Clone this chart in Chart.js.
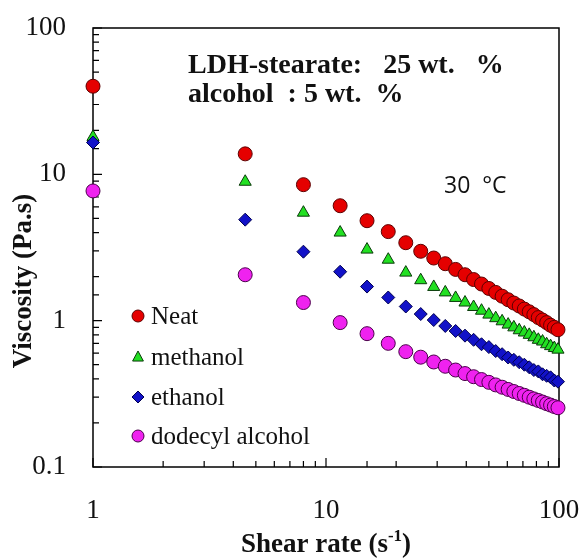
<!DOCTYPE html>
<html lang="en">
<head>
<meta charset="UTF-8">
<title>Viscosity vs shear rate</title>
<script src="https://cdn.jsdelivr.net/npm/chart.js@4.4.1/dist/chart.umd.min.js"></script>
<style>
  body { margin: 0; background: #fff; }
  #wrap { width: 582px; height: 559px; }
</style>
</head>
<body>
<div id="wrap"><canvas id="viscChart" width="582" height="559"></canvas></div>
<script>
// shear rate (1/s) and viscosity (Pa.s) for each formulation
const shearRate = [1, 4.5, 8, 11.5, 15, 18.5, 22, 25.5, 29, 32.5, 36, 39.5, 43, 46.5, 50,
                   53.5, 57, 60.5, 64, 67.5, 71, 74.5, 78, 81.5, 85, 88.5, 92, 95.5, 99];
const neat = [40, 13.8, 8.5, 6.1, 4.82, 4.06, 3.41, 2.98, 2.68, 2.45, 2.24, 2.06, 1.91, 1.78, 1.66,
              1.56, 1.47, 1.39, 1.32, 1.26, 1.20, 1.15, 1.10, 1.05, 1.01, 0.97, 0.93, 0.90, 0.867];
const methanol = [18, 8.9, 5.47, 4.0, 3.06, 2.61, 2.13, 1.89, 1.70, 1.56, 1.43, 1.33, 1.24, 1.17, 1.10,
                  1.04, 0.99, 0.94, 0.90, 0.86, 0.83, 0.80, 0.77, 0.74, 0.72, 0.69, 0.67, 0.65, 0.634];
const ethanol = [16.5, 4.9, 2.96, 2.16, 1.71, 1.44, 1.25, 1.11, 1.01, 0.92, 0.85, 0.79, 0.74, 0.69, 0.66,
                 0.62, 0.59, 0.56, 0.54, 0.52, 0.50, 0.48, 0.46, 0.45, 0.43, 0.42, 0.41, 0.39, 0.383];
const dodecyl = [7.7, 2.06, 1.33, 0.97, 0.815, 0.70, 0.614, 0.563, 0.522, 0.488, 0.460, 0.435, 0.414, 0.396, 0.379,
                 0.364, 0.351, 0.339, 0.328, 0.318, 0.309, 0.300, 0.292, 0.285, 0.278, 0.271, 0.265, 0.259, 0.254];

const seriesNames = ['Neat', 'methanol', 'ethanol', 'dodecyl alcohol'];
const seriesValues = [neat, methanol, ethanol, dodecyl];
const seriesStyle = [
    { shape: 'circle', fill: '#e50000', edge: '#5c0000' },
    { shape: 'triangle', fill: '#22e022', edge: '#0a3a0a' },
    { shape: 'rectRot', fill: '#1212c8', edge: '#000050' },
    { shape: 'circle', fill: '#ef22ef', edge: '#4a004a' }
];

const xMin = 1, xMax = 100;
const yMin = 0.1, yMax = 100;

const serif = '"Liberation Serif", "Times New Roman", serif';

function isDecade(v) {
    const l = Math.log10(v);
    return Math.abs(l - Math.round(l)) < 1e-9;
}

// frame plus inward ticks on the left and bottom axes
const framePlugin = {
    id: 'frame',
    beforeDatasetsDraw(chart) {
        const { ctx, chartArea: a } = chart;
        ctx.save();
        ctx.strokeStyle = '#000';
        ctx.lineWidth = 1.5;
        ctx.strokeRect(a.left, a.top, a.right - a.left, a.bottom - a.top);
        ctx.lineWidth = 1.2;
        ctx.beginPath();
        chart.scales.x.ticks.forEach(t => {
            const px = chart.scales.x.getPixelForValue(t.value);
            const len = isDecade(t.value) ? 9 : 6;
            ctx.moveTo(px, a.bottom);
            ctx.lineTo(px, a.bottom - len);
        });
        chart.scales.y.ticks.forEach(t => {
            const py = chart.scales.y.getPixelForValue(t.value);
            const len = isDecade(t.value) ? 9 : 6;
            ctx.moveTo(a.left, py);
            ctx.lineTo(a.left + len, py);
        });
        ctx.stroke();
        ctx.restore();
    }
};

function drawMarker(ctx, shape, x, y, r, fill, edge) {
    ctx.beginPath();
    if (shape === 'circle') {
        ctx.arc(x, y, r, 0, Math.PI * 2);
    } else if (shape === 'triangle') {
        const h = r * 1.5;
        ctx.moveTo(x, y - h * 0.67);
        ctx.lineTo(x + r * 0.9, y + h * 0.45);
        ctx.lineTo(x - r * 0.9, y + h * 0.45);
        ctx.closePath();
    } else {
        ctx.moveTo(x, y - r);
        ctx.lineTo(x + r, y);
        ctx.lineTo(x, y + r);
        ctx.lineTo(x - r, y);
        ctx.closePath();
    }
    ctx.fillStyle = fill;
    ctx.fill();
    ctx.lineWidth = 1;
    ctx.strokeStyle = edge;
    ctx.stroke();
}

// legend, notes and axis titles
const textPlugin = {
    id: 'texts',
    afterDraw(chart) {
        const ctx = chart.ctx;
        ctx.save();

        // legend inside the plot
        const rows = [316, 357, 397, 436];
        seriesNames.forEach((name, i) => {
            const s = seriesStyle[i];
            drawMarker(ctx, s.shape, 138, rows[i], 6, s.fill, s.edge);
            ctx.fillStyle = '#111';
            ctx.font = 'normal 400 25px "Liberation Serif"';
            ctx.textBaseline = 'middle';
            ctx.fillText(name, 151, rows[i] + 1);
        });

        ctx.fillStyle = '#111';
        ctx.textBaseline = 'alphabetic';
        ctx.font = 'bold 28px ' + serif;
        ctx.fillText('LDH-stearate:   25 wt.   %', 188, 73);
        ctx.fillText('alcohol  : 5 wt.  %', 188, 102);

        ctx.font = '23px "Open Sans", sans-serif';
        ctx.fillText('30  \u00B0C', 444, 193);

        // x title with superscript
        ctx.font = 'bold 27px ' + serif;
        const p1 = 'Shear rate (s', sup = '-1', p2 = ')';
        const w1 = ctx.measureText(p1).width;
        const w3 = ctx.measureText(p2).width;
        ctx.font = 'bold 17px ' + serif;
        const w2 = ctx.measureText(sup).width;
        let x0 = 326 - (w1 + w2 + w3) / 2;
        ctx.font = 'bold 27px ' + serif;
        ctx.fillText(p1, x0, 552);
        ctx.font = 'bold 17px ' + serif;
        ctx.fillText(sup, x0 + w1, 541);
        ctx.font = 'bold 27px ' + serif;
        ctx.fillText(p2, x0 + w1 + w2, 552);

        // y title
        ctx.translate(24, 281);
        ctx.rotate(-Math.PI / 2);
        ctx.textAlign = 'center';
        ctx.textBaseline = 'middle';
        ctx.fillText('Viscosity (Pa.s)', 0, 0);
        ctx.restore();
    }
};

const datasets = seriesNames.map((name, i) => ({
    label: name,
    data: shearRate.map((x, j) => ({ x: x, y: seriesValues[i][j] })),
    pointStyle: seriesStyle[i].shape,
    pointRadius: seriesStyle[i].shape === 'rectRot' ? 6.5 : 7,
    backgroundColor: seriesStyle[i].fill,
    borderColor: seriesStyle[i].edge,
    borderWidth: 1,
    showLine: false,
    clip: false
}));

new Chart(document.getElementById('viscChart'), {
    type: 'scatter',
    data: { datasets: datasets.reverse() },
    options: {
        responsive: false,
        animation: false,
        layout: { padding: { top: 28, right: 23, left: 0, bottom: 0 } },
        plugins: { legend: { display: false }, tooltip: { enabled: false } },
        scales: {
            x: {
                type: 'logarithmic',
                min: xMin,
                max: xMax,
                afterFit(scale) {
                    scale.height = 92;
                    scale.paddingLeft = 0;
                    scale.paddingRight = 0;
                },
                grid: { display: false, drawTicks: false },
                border: { display: false },
                ticks: {
                    autoSkip: false,
                    maxRotation: 0,
                    padding: 28,
                    color: '#111',
                    font: { family: serif, size: 27 },
                    callback: v => isDecade(v) ? String(v) : ''
                }
            },
            y: {
                type: 'logarithmic',
                min: yMin,
                max: yMax,
                afterFit(scale) {
                    scale.width = 93;
                    scale.paddingTop = 0;
                    scale.paddingBottom = 0;
                },
                grid: { display: false, drawTicks: false },
                border: { display: false },
                ticks: {
                    autoSkip: false,
                    padding: 27,
                    color: '#111',
                    font: { family: serif, size: 27 },
                    callback: v => isDecade(v) ? String(v) : ''
                }
            }
        }
    },
    plugins: [framePlugin, textPlugin]
});
</script>
</body>
</html>
